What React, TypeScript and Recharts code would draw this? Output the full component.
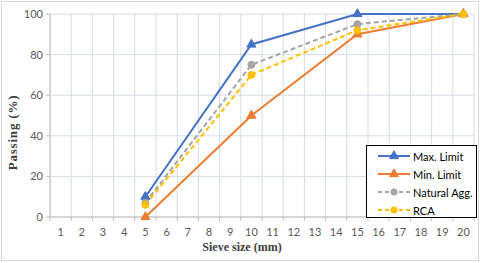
import React from "react";
import { LineChart, Line, XAxis, YAxis, CartesianGrid, Symbols } from "recharts";

const sieveSizes = [5, 10, 15, 20];
const maxLimit = [10, 85, 100, 100];
const minLimit = [0, 50, 90, 100];
const naturalAgg = [7, 75, 95, 100];
const rca = [6, 70, 92, 100];
const xTicks = [1, 2, 3, 4, 5, 6, 7, 8, 9, 10, 11, 12, 13, 14, 15, 16, 17, 18, 19, 20];
const boundaryTicks = [0, ...xTicks].map((v) => v + 0.5);
const yTicks = [0, 20, 40, 60, 80, 100];

const data = sieveSizes.map((s, i) => ({
  size: s,
  max: maxLimit[i],
  min: minLimit[i],
  nat: naturalAgg[i],
  rca: rca[i],
}));

const BLUE = "#4472C4";
const ORANGE = "#ED7D31";
const GRAY = "#A5A5A5";
const YELLOW = "#FFC000";
const GRID = "#d6dce5";
const TICK_FONT = "Lato, 'Open Sans', sans-serif";
const TITLE_FONT = "'Liberation Serif', 'DejaVu Serif', serif";

const tri = (color: string) => (p: any) => (
  <Symbols key={p.index} cx={p.cx} cy={p.cy} type="triangle" size={36} fill={color} stroke={color} />
);
const circ = (color: string) => (p: any) => (
  <circle key={p.index} cx={p.cx} cy={p.cy} r={3.5} fill={color} stroke={color} />
);

const legendItems = [
  { name: "Max. Limit", color: BLUE, dash: false, shape: "triangle" },
  { name: "Min. Limit", color: ORANGE, dash: false, shape: "triangle" },
  { name: "Natural Agg.", color: GRAY, dash: true, shape: "circle" },
  { name: "RCA", color: YELLOW, dash: true, shape: "circle" },
];

export default function App() {
  return (
    <div style={{ position: "fixed", left: 0, top: 0, width: 480, height: 263, background: "#fff" }}>
      <LineChart width={480} height={263} data={data} margin={{ top: 14, right: 6, bottom: 0, left: 0 }}>
        <CartesianGrid xAxisId="g" stroke={GRID} strokeWidth={1} />
        <XAxis
          xAxisId="g"
          type="number"
          dataKey="size"
          domain={[0.5, 20.5]}
          ticks={boundaryTicks}
          tickFormatter={() => ""}
          tickSize={4}
          height={5}
          stroke="#bfbfbf"
          tickLine={{ stroke: "#bfbfbf" }}
          axisLine={{ stroke: "#bfbfbf" }}
          allowDataOverflow
        />
        <XAxis
          xAxisId="v"
          type="number"
          dataKey="size"
          domain={[0.5, 20.5]}
          ticks={xTicks}
          interval={0}
          tickLine={false}
          axisLine={false}
          tickSize={0}
          tickMargin={6}
          height={41}
          tick={{ fontSize: 11, fill: "#595959", fontFamily: TICK_FONT }}
          label={{
            content: (props: any) => {
              const vb = props.viewBox;
              return (
                <text
                  x={vb.x + vb.width / 2 - 20}
                  y={vb.y + 29}
                  textAnchor="middle"
                  fontFamily={TITLE_FONT}
                  fontWeight="bold"
                  fontSize={12}
                  fill="#404040"
                >
                  Sieve size (mm)
                </text>
              );
            },
          }}
        />
        <YAxis
          type="number"
          domain={[0, 100]}
          ticks={yTicks}
          width={50}
          tickSize={4}
          tickMargin={3}
          stroke="#bfbfbf"
          tick={{ fontSize: 11, fill: "#595959", fontFamily: TICK_FONT }}
          label={{
            content: (props: any) => {
              const vb = props.viewBox;
              const x = vb.x + 17;
              const y = vb.y + vb.height / 2 + 17;
              return (
                <text
                  x={x}
                  y={y}
                  transform={`rotate(-90 ${x} ${y})`}
                  textAnchor="middle"
                  fontFamily={TITLE_FONT}
                  fontWeight="bold"
                  fontSize={13}
                  letterSpacing={0.8}
                  fill="#404040"
                >
                  Passing (%)
                </text>
              );
            },
          }}
        />
        <Line xAxisId="v" dataKey="max" stroke={BLUE} strokeWidth={2} dot={tri(BLUE)} isAnimationActive={false} />
        <Line xAxisId="v" dataKey="min" stroke={ORANGE} strokeWidth={2} dot={tri(ORANGE)} isAnimationActive={false} />
        <Line xAxisId="v" dataKey="nat" stroke={GRAY} strokeWidth={2} strokeDasharray="5 3" dot={circ(GRAY)} isAnimationActive={false} />
        <Line xAxisId="v" dataKey="rca" stroke={YELLOW} strokeWidth={2} strokeDasharray="5 3" dot={circ(YELLOW)} isAnimationActive={false} />
      </LineChart>
      <div
        style={{
          position: "absolute",
          left: 366,
          top: 145,
          width: 109,
          height: 71,
          border: "1px solid #000",
          background: "#fff",
          fontFamily: TICK_FONT,
          fontSize: 11,
          color: "#000",
        }}
      >
        {legendItems.map((it, i) => (
          <div key={it.name} style={{ position: "absolute", left: 10, top: 2 + i * 18, height: 16, display: "flex", alignItems: "center" }}>
            <svg width={34} height={12}>
              <line x1={1} y1={6} x2={33} y2={6} stroke={it.color} strokeWidth={2} strokeDasharray={it.dash ? "4 3" : undefined} />
              {it.shape === "triangle" ? (
                <Symbols cx={17} cy={6} type="triangle" size={36} fill={it.color} stroke={it.color} />
              ) : (
                <circle cx={17} cy={6} r={3.5} fill={it.color} />
              )}
            </svg>
            <span style={{ marginLeft: 2 }}>{it.name}</span>
          </div>
        ))}
      </div>
      <div
        style={{
          position: "absolute",
          left: 1,
          top: 1,
          width: 476,
          height: 258,
          border: "1px solid #d9d9d9",
          pointerEvents: "none",
        }}
      />
    </div>
  );
}
